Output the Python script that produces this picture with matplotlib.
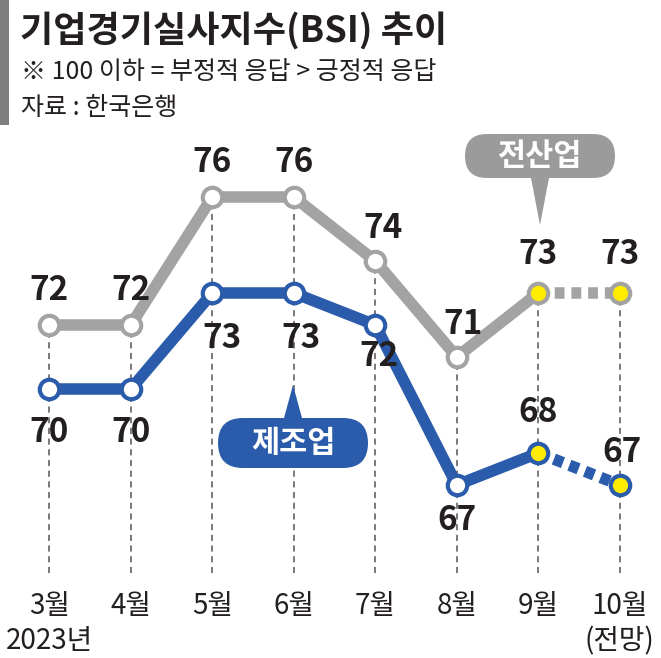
import numpy as np
import matplotlib.pyplot as plt
import matplotlib.transforms as mtransforms
from matplotlib.patches import FancyBboxPatch, Polygon, Rectangle

plt.rcParams['font.family'] = ['Liberation Sans Narrow', 'Noto Sans CJK KR']

# data
months        = ['3월', '4월', '5월', '6월', '7월', '8월', '9월', '10월']
subLabels     = ['2023년', '', '', '', '', '', '', '(전망)']
allIndustry   = [72, 72, 76, 76, 74, 71, 73, 73]   # 전산업
manufacturing = [70, 70, 73, 73, 72, 67, 68, 67]   # 제조업
fcIdx         = 6  # 9월 -> 10월 (전망) drawn dashed

grayCol  = '#a3a3a3'
blueCol  = '#2b5cab'
yellow   = '#ffec00'
textCol  = '#231f20'

W, H = 661, 658
fig = plt.figure(figsize=(W / 100, H / 100), dpi=100)
ax = fig.add_axes([0, 0, 1, 1])

# map data so that months / values land where the reference has them
x0, dx = 49.3, 81.5
y70, pxu = 389, 32
ax.set_xlim(-x0 / dx, (W - x0) / dx)
ax.set_ylim(70 - (H - y70) / pxu, 70 + y70 / pxu)
ax.axis('off')

px = mtransforms.Affine2D().scale(1 / W, -1 / H).translate(0, 1) + fig.transFigure
xpx = mtransforms.blended_transform_factory(ax.transData, px)

x = np.arange(len(months))
yBottom = 70 - (573 - y70) / pxu

# guide lines
ax.vlines(x, yBottom, allIndustry, colors='#555555', linewidth=1.1,
          linestyles=(0, (4, 3)), zorder=1)

lw = 8.3
for vals, col in [(allIndustry, grayCol), (manufacturing, blueCol)]:
    ax.plot(x[:fcIdx + 1], vals[:fcIdx + 1], color=col, lw=lw,
            solid_capstyle='round', solid_joinstyle='round', zorder=3)
    ax.plot(x[fcIdx:], vals[fcIdx:], color=col, lw=lw,
            linestyle=(0, (0.85, 0.6)), dash_capstyle='butt', zorder=3)
    for i, v in enumerate(vals):
        fc = yellow if i >= fcIdx else 'white'
        ax.plot(x[i], v, 'o', ms=14, mfc=fc, mec=col, mew=3.0, zorder=4)

# value labels (offsets in pixels)
grayOff = [(0, 35), (0, 35), (0, 34), (0, 34), (8, 33), (6, 32), (0, 38), (0, 38)]
blueOff = [(0, -43), (0, -43), (10, -45), (7, -45), (4, -32), (0, -35), (0, 40), (2, 33)]
for vals, offs in [(allIndustry, grayOff), (manufacturing, blueOff)]:
    for i, v in enumerate(vals):
        ax.annotate(str(v), (x[i], v), xytext=offs[i], textcoords='offset pixels',
                    ha='center', va='center', fontsize=24, fontweight='bold',
                    color=textCol, zorder=5)

# month labels
for i, m in enumerate(months):
    ax.text(x[i], 606, m, transform=xpx, ha='center', va='center',
            fontsize=20, color=textCol)
    if subLabels[i]:
        ax.text(x[i], 641, subLabels[i], transform=xpx, ha='center', va='center',
                fontsize=20, color=textCol)

# callouts
def callout(cx, cy, w, h, tipY, label, col):
    box = FancyBboxPatch((cx - w / 2, cy - h / 2), w, h,
                         boxstyle='round,pad=0,rounding_size=%g' % (h / 2),
                         transform=px, facecolor=col, edgecolor='none', zorder=6)
    fig.add_artist(box)
    edge = cy + h / 2 if tipY > cy else cy - h / 2
    tri = Polygon([(cx - 9, edge), (cx + 9, edge), (cx, tipY)], closed=True,
                  transform=px, facecolor=col, edgecolor='none', zorder=6)
    fig.add_artist(tri)
    fig.text(cx / W, 1 - cy / H, label, ha='center', va='center', color='white',
             fontsize=22, fontweight='bold', family='Noto Sans CJK KR', zorder=7)

callout(540, 156, 150, 44, 225, '전산업', '#9b9b9b')
callout(293, 443, 150, 50, 385, '제조업', blueCol)

# title block
fig.add_artist(Rectangle((0, 0), 9, 125, transform=px, facecolor='#7f7f7f',
                         edgecolor='none'))
fig.text(20 / W, 1 - 31 / H, '기업경기실사지수(BSI) 추이', ha='left', va='center',
         fontsize=26, fontweight='heavy', color=textCol, family='Noto Sans CJK KR')
fig.text(21 / W, 1 - 72 / H, '※ 100 이하 = 부정적 응답 > 긍정적 응답', ha='left',
         va='center', fontsize=18, color=textCol, family='Noto Sans CJK KR')
fig.text(21 / W, 1 - 108 / H, '자료 : 한국은행', ha='left', va='center',
         fontsize=18, color=textCol, family='Noto Sans CJK KR')

fig.savefig('out.png', dpi=100, facecolor='white')
